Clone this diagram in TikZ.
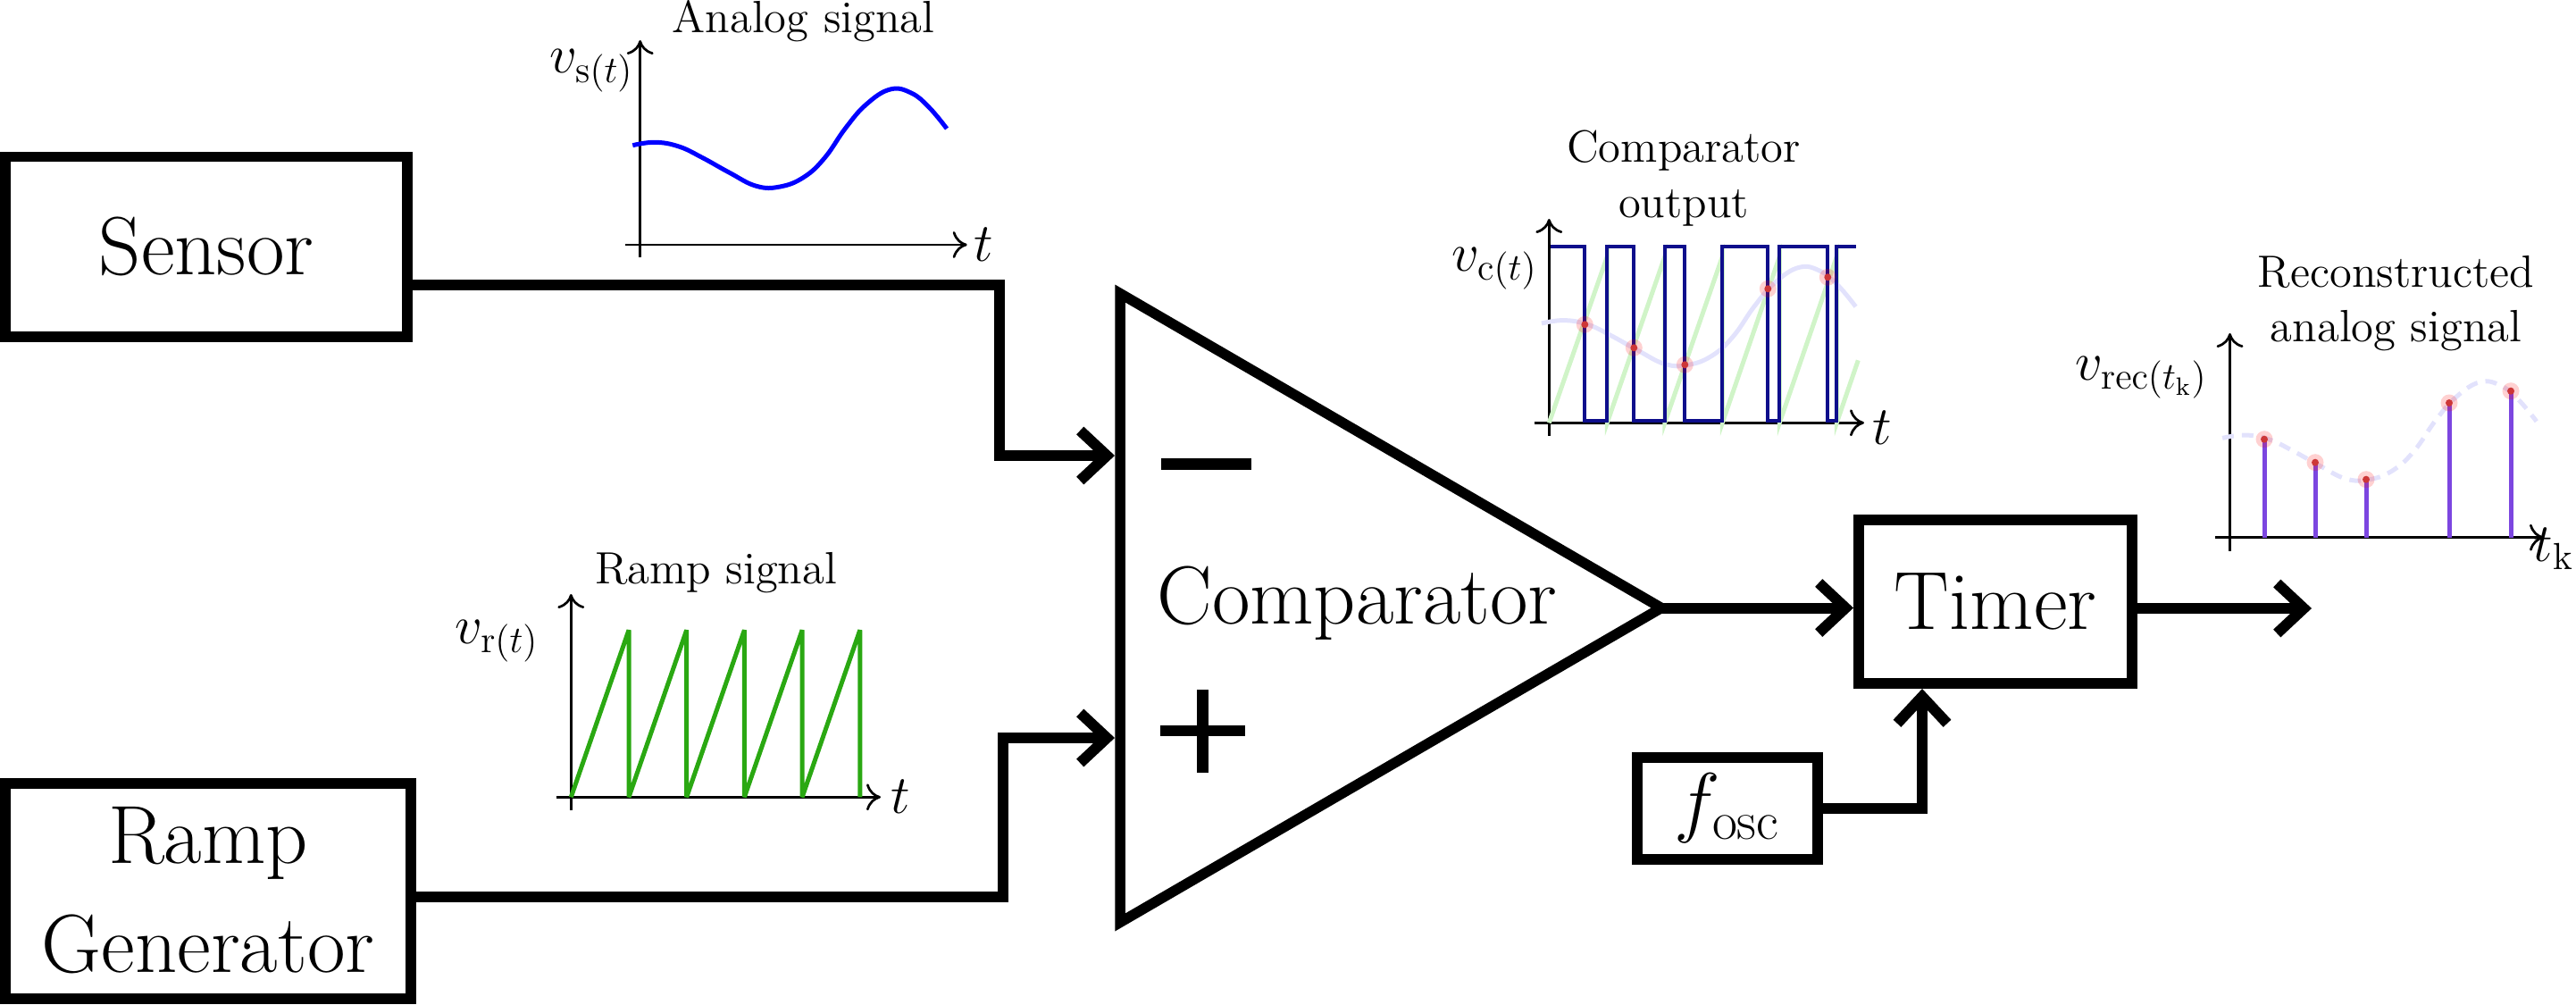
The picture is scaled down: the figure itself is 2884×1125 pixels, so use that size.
\documentclass[tikz,border=0pt]{standalone}
\usetikzlibrary{arrows.meta,calc}
\definecolor{sqblue}{RGB}{14,14,140}
\definecolor{faintblue}{RGB}{226,226,252}
\definecolor{faintgreen}{RGB}{208,244,200}
\definecolor{rampgreen}{RGB}{42,168,18}
\definecolor{stempurple}{RGB}{124,70,224}
\definecolor{dotred}{RGB}{205,55,55}
\begin{document}
\begin{tikzpicture}[x=0.1mm,y=-0.1mm,
  blk/.style={draw, line width=1.2mm, inner sep=0pt, font=\fontsize{26.3}{34.7}\selectfont, align=center},
  conn/.style={line width=1.2mm, -{Straight Barb[length=3mm,width=5.6mm]}},
  plotaxis/.style={line width=0.27mm, -{Computer Modern Rightarrow[length=1.6mm,width=3mm]}},
  ttl/.style={font=\fontsize{14.4}{17.5}\selectfont, align=center, inner sep=0pt},
  lbl/.style={font=\fontsize{17}{20}\selectfont, inner sep=0pt},
  sig/.style={line width=0.5mm},
  halo/.style={fill=red, fill opacity=0.18},
  core/.style={fill=dotred},
]
\useasboundingbox (0,0) rectangle (2884,1125);

% ---------- blocks ----------
\node[blk, minimum width=45mm, minimum height=20.15mm] (sensor) at (231,276.25) {Sensor};
\node[blk, minimum width=45.4mm, minimum height=24.1mm] (rampgen) at (233,997) {Ramp\\Generator};
\node[blk, minimum width=30.6mm, minimum height=18.3mm] (timer) at (2234,673.5) {Timer};
\node[blk, minimum width=20.2mm, minimum height=11.45mm] (fosc) at (1934,904.75) {$f_{\mathrm{osc}}$};

% comparator triangle
\coordinate (ctop) at (1254,328.5);
\coordinate (cbot) at (1254,1032.5);
\coordinate (ctip) at (1860,680.5);
\draw[line width=1.15mm] (ctop) -- (ctip) -- (cbot) -- cycle;
\node[font=\fontsize{26.3}{34.7}\selectfont, anchor=base, inner sep=0pt] (cmp) at (1519.5,698) {Comparator};
\draw[line width=1.3mm] (1300,519) -- (1401,519);
\draw[line width=1.25mm] (1299,818) -- (1394,818) (1346.5,772) -- (1346.5,865);

% ---------- connectors ----------
\coordinate (cin1) at (1248,510);
\coordinate (cin2) at (1248,826);
\coordinate (ys) at (0,319);
\coordinate (yr) at (0,1004);
\coordinate (outend) at (2588,681);
\coordinate (tin) at (2152,0);
\draw[conn] (sensor.east |- ys) -- (1119,319) |- (cin1);
\draw[conn] (rampgen.east |- yr) -- (1123,1004) |- (cin2);
\draw[conn] (ctip) -- (timer.west |- ctip);
\draw[conn] (timer.east |- outend) -- (outend);
\draw[conn] (fosc.east) -| (tin |- timer.south);

% ---------- analog signal plot ----------
\begin{scope}[shift={(716.7,274)}, yscale=-1]
  \draw[plotaxis] (-16.7,0) -- (366,0);
  \draw[plotaxis] (0,-14) -- (0,229);
  \draw[sig, blue] plot[smooth, tension=0.7] coordinates {(-8.4,111.3) (16.6,114.7) (43.3,110) (70,97.3) (100,80.7) (130,65.7) (156.6,65) (183.3,75.7) (206.6,97.3) (230,130.7) (253.3,157.3) (280,174) (303.3,170) (323.3,154) (343.3,130)};
\end{scope}
\node[lbl, anchor=base east] (vs) at (710,82) {$v_{\mathrm{s}(t)}$};
\node[lbl, anchor=base west] (ts) at (1090,292) {$t$};
\node[ttl, anchor=base] (ta) at (899.5,37) {Analog signal};

% ---------- ramp signal plot ----------
\begin{scope}[shift={(639.3,892.3)}, yscale=-1]
  \draw[plotaxis] (-16.6,0) -- (346.7,0);
  \draw[plotaxis] (0,-14.7) -- (0,227.3);
  \draw[sig, rampgreen, line join=bevel] (0,0) -- (64.7,187) -- (64.7,0) -- (129.4,187) -- (129.4,0) -- (194.1,187) -- (194.1,0) -- (258.8,187) -- (258.8,0) -- (323.5,187) -- (323.5,0);
\end{scope}
\node[lbl, anchor=base east] (vr) at (604,720) {$v_{\mathrm{r}(t)}$};
\node[lbl, anchor=base west] (tr) at (997,910) {$t$};
\node[ttl, anchor=base] (tram) at (801.5,653) {Ramp signal};

% ---------- comparator output plot ----------
\begin{scope}[shift={(1734.3,473.3)}, yscale=-1]
  \draw[plotaxis] (-16.8,0) -- (352.7,0);
  \draw[plotaxis] (0,-14.7) -- (0,228.3);
  \draw[sig, faintgreen] (0,0) -- (65,186) -- (65,0) -- (129.5,186) -- (129.5,0) -- (194,186) -- (194,0) -- (258,186) -- (258,0) -- (322,186) -- (322,0) -- (346,70);
  \draw[sig, faintblue] plot[smooth, tension=0.7] coordinates {(-8.4,111.3) (16.6,114.7) (43.3,110) (70,97.3) (100,80.7) (130,65.7) (156.6,65) (183.3,75.7) (206.6,97.3) (230,130.7) (253.3,157.3) (280,174) (303.3,170) (323.3,154) (343.3,130)};
  \draw[line width=0.43mm, sqblue] (1.7,197.6) -- (40,197.6) -- (40,2) -- (65,2) -- (65,197.6) -- (95,197.6) -- (95,2) -- (129.5,2) -- (129.5,197.6) -- (152,197.6) -- (152,2) -- (194,2) -- (194,197.6) -- (245,197.6) -- (245,2) -- (258,2) -- (258,197.6) -- (312,197.6) -- (312,2) -- (322,2) -- (322,197.6) -- (344,197.6);
  \foreach \px/\py in {40/110, 95/84, 152/65, 245/150, 312/163} {
    \fill[halo] (\px,\py) circle (0.95mm);
    \fill[core] (\px,\py) circle (0.4mm);
  }
\end{scope}
\node[lbl, anchor=base east] (vc) at (1722,303) {$v_{\mathrm{c}(t)}$};
\node[lbl, anchor=base west] (tc) at (2096,497) {$t$};
\node[ttl] (tco) at (1885,199.6) {Comparator\\output};

% ---------- reconstructed plot ----------
\begin{scope}[shift={(2496.5,601.7)}, yscale=-1]
  \draw[plotaxis] (-16.5,0) -- (351.5,0);
  \draw[plotaxis] (0,-15) -- (0,228.7);
  \draw[sig, faintblue, dash pattern=on 1.3mm off 0.9mm] plot[smooth, tension=0.7] coordinates {(-8.4,111.3) (16.6,114.7) (43.3,110) (70,97.3) (100,80.7) (130,65.7) (156.6,65) (183.3,75.7) (206.6,97.3) (230,130.7) (253.3,157.3) (280,174) (303.3,170) (323.3,154) (343.3,130)};
  \foreach \px/\py in {38.5/110, 95.5/84, 152.5/65, 245.5/150.7, 314.5/164} {
    \draw[sig, stempurple] (\px,0) -- (\px,\py);
    \fill[halo] (\px,\py) circle (0.95mm);
    \fill[core] (\px,\py) circle (0.4mm);
  }
\end{scope}
\node[lbl, anchor=base east] (vrec) at (2472,425) {$v_{\mathrm{rec}(t_{\mathrm{k}})}$};
\node[lbl, anchor=base west] (tk) at (2836,628) {$t_{\mathrm{k}}$};
\node[ttl] (trec) at (2682.5,339.6) {Reconstructed\\analog signal};
\end{tikzpicture}
\end{document}
